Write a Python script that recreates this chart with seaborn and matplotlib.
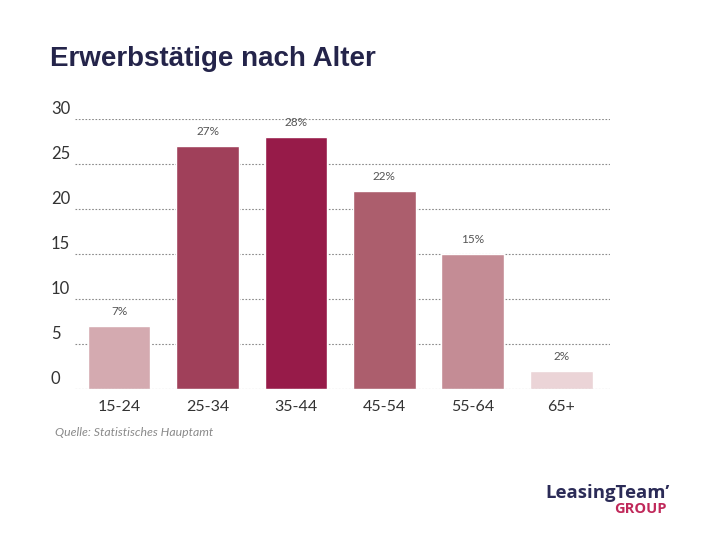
import matplotlib
matplotlib.use("Agg")
import matplotlib.pyplot as plt
import seaborn as sns
import pandas as pd

# data
age_groups = ["15-24", "25-34", "35-44", "45-54", "55-64", "65+"]
shares = [7, 27, 28, 22, 15, 2]
bar_colors = ["#d4aab0", "#a0405a", "#971b49", "#ac5e6d", "#c48c95", "#ebd4d7"]
y_ticks = [0, 5, 10, 15, 20, 25, 30]

title = "Erwerbstätige nach Alter"
source = "Quelle: Statistisches Hauptamt"

sns.set_theme(style="white")
plt.rcParams["font.family"] = ["Lato", "DejaVu Sans"]

df = pd.DataFrame({"age": age_groups, "share": shares})

fig = plt.figure(figsize=(7.2, 5.4), dpi=100)
ax = fig.add_axes([0.104, 0.2796, 0.743, 0.5])

sns.barplot(data=df, x="age", y="share", hue="age", palette=bar_colors,
            legend=False, width=0.71, saturation=1, ax=ax, zorder=3)

ax.set_xlim(-0.5, 5.55)
ax.set_ylim(0, 30)
ax.set_yticks(y_ticks)
ax.set_yticklabels([])
ax.tick_params(axis="y", length=0)
ax.tick_params(axis="x", length=0, pad=8, labelsize=11.5, labelcolor="#333333")
ax.set_xlabel("")
ax.set_ylabel("")
for s in ax.spines.values():
    s.set_visible(False)

# dotted gridlines, including the baseline
for t in y_ticks:
    ax.axhline(t, color="#8a8a8a", linestyle=(0, (1.5, 1.5)), linewidth=0.8,
               zorder=1 if t > 0 else 4)
    ax.text(-0.045, t + 0.2, str(t), transform=ax.get_yaxis_transform(),
            ha="left", va="bottom", fontsize=12, color="#333333")

# value labels above bars
for i, v in enumerate(shares):
    ax.text(i, v + 1.0, f"{v}%", ha="center", va="bottom",
            fontsize=8.5, color="#555555")

fig.text(50 / 720, 1 - 59 / 540, title, ha="left", va="center",
         fontsize=20, fontweight="bold", color="#24244a",
         family=["Liberation Sans", "DejaVu Sans"])

fig.text(55 / 720, 1 - 432 / 540, source, ha="left", va="center",
         fontsize=8.8, style="italic", color="#8a8a8a")

# logo text
fig.text(670 / 720, 1 - 493 / 540, "LeasingTeam’", ha="right", va="center",
         fontsize=13.3, fontweight="bold", color="#2b2b57",
         family=["Open Sans", "DejaVu Sans"])
fig.text(667 / 720, 1 - 509 / 540, "GROUP", ha="right", va="center",
         fontsize=10.5, fontweight="bold", color="#c0285a",
         family=["Open Sans", "DejaVu Sans"])

fig.savefig("out.png", dpi=100)
